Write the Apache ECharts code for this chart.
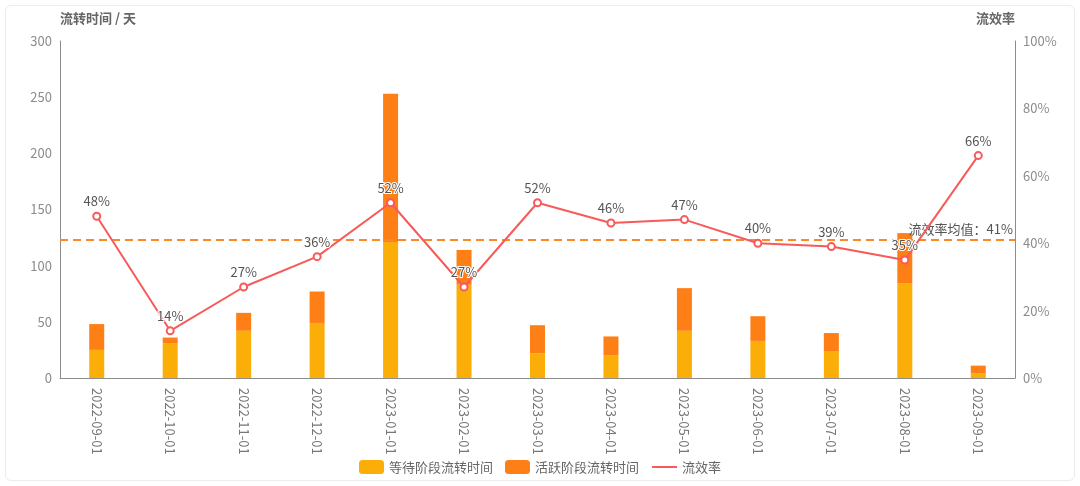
<!DOCTYPE html>
<html>
<head>
<meta charset="utf-8">
<script src="https://cdn.jsdelivr.net/npm/echarts@6/dist/echarts.min.js"></script>
<style>
  html, body { margin: 0; padding: 0; background: #fff; }
  .card {
    position: absolute; left: 5px; top: 5px; width: 1068px; height: 474px;
    border: 1px solid #ececec; border-radius: 6px;
  }
  #chart { position: absolute; left: 0; top: 0; width: 1080px; height: 486px; }
</style>
</head>
<body>
<div class="card"></div>
<div id="chart"></div>
<script>
// 月份
const months = ['2022-09-01', '2022-10-01', '2022-11-01', '2022-12-01', '2023-01-01', '2023-02-01',
  '2023-03-01', '2023-04-01', '2023-05-01', '2023-06-01', '2023-07-01', '2023-08-01', '2023-09-01']
// 等待阶段流转时间（天）
const waitDays = [25, 31, 42, 49, 121, 83, 22, 20, 42, 33, 24, 84, 4]
// 活跃阶段流转时间（天）
const activeDays = [23, 5, 16, 28, 132, 31, 25, 17, 38, 22, 16, 45, 7]
// 流效率（%）
const flowRate = [48, 14, 27, 36, 52, 27, 52, 46, 47, 40, 39, 35, 66]

const chart = echarts.init(document.getElementById('chart'))
const axisGray = '#8c8c8c'
const font = '"Noto Sans CJK SC", "Noto Sans", sans-serif'

const option = {
  textStyle: { fontFamily: font },
  grid: { left: 60, right: 65, top: 41, bottom: 108 },
  legend: {
    bottom: 7,
    left: 'center',
    itemWidth: 25,
    itemHeight: 14,
    itemGap: 12,
    textStyle: { color: '#666', fontSize: 13, fontFamily: font },
    data: [
      { name: '等待阶段流转时间', icon: 'roundRect' },
      { name: '活跃阶段流转时间', icon: 'roundRect' },
      { name: '流效率', itemStyle: { opacity: 0 } },
    ],
  },
  xAxis: {
    type: 'category',
    data: months,
    axisLine: { lineStyle: { color: axisGray } },
    axisTick: { alignWithLabel: true, lineStyle: { color: axisGray } },
    axisLabel: { rotate: -90, color: '#777', fontSize: 13, margin: 10 },
  },
  yAxis: [
    {
      type: 'value',
      name: '流转时间 / 天',
      min: 0,
      max: 300,
      interval: 50,
      nameGap: 16,
      nameTextStyle: { color: '#666', fontWeight: 'bold', fontSize: 13, align: 'left' },
      splitLine: { show: false },
      axisTick: { show: false },
      axisLine: { show: true, lineStyle: { color: axisGray } },
      axisLabel: { color: axisGray, fontSize: 13, margin: 8 },
    },
    {
      type: 'value',
      name: '流效率',
      min: 0,
      max: 100,
      interval: 20,
      nameGap: 16,
      nameTextStyle: { color: '#666', fontWeight: 'bold', fontSize: 13, align: 'right' },
      splitLine: { show: false },
      axisTick: { show: false },
      axisLine: { show: true, lineStyle: { color: axisGray } },
      axisLabel: { color: axisGray, fontSize: 13, margin: 8, formatter: '{value}%' },
    },
  ],
  series: [
    {
      name: '等待阶段流转时间',
      type: 'bar',
      stack: 'time',
      barWidth: 15,
      data: waitDays,
      itemStyle: { color: '#fbae08' },
    },
    {
      name: '活跃阶段流转时间',
      type: 'bar',
      stack: 'time',
      barWidth: 15,
      data: activeDays,
      itemStyle: { color: '#fe7f16' },
    },
    {
      name: '流效率',
      type: 'line',
      yAxisIndex: 1,
      data: flowRate,
      symbol: 'emptyCircle',
      symbolSize: 7,
      z: 5,
      lineStyle: { color: '#f85a5a', width: 2 },
      itemStyle: { color: '#f85a5a', borderWidth: 2 },
      label: {
        show: true,
        position: 'top',
        distance: 4,
        formatter: '{c}%',
        color: '#555',
        fontSize: 13,
        textBorderColor: '#fff',
        textBorderWidth: 2,
      },
      markLine: {
        silent: true,
        symbol: 'none',
        precision: 0,
        lineStyle: { color: '#f98a2a', type: [8, 5], width: 2 },
        label: {
          position: 'insideEndTop',
          formatter: '流效率均值：{c}%',
          color: '#555',
          fontSize: 13,
          distance: [2, 4],
        },
        data: [{ type: 'average', name: '流效率均值' }],
      },
    },
  ],
}
chart.setOption(option)
</script>
</body>
</html>
